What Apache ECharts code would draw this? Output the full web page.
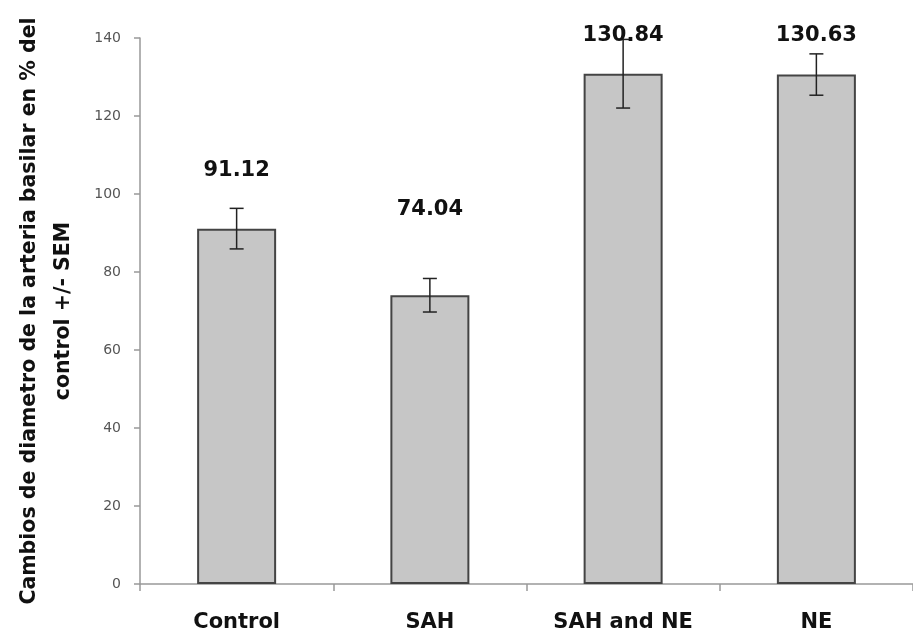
<!DOCTYPE html>
<html>
<head>
<meta charset="utf-8">
<script src="https://cdn.jsdelivr.net/npm/echarts@6/dist/echarts.min.js"></script>
<style>html,body{margin:0;padding:0;background:#fff;}#c{width:913px;height:638px;}</style>
</head>
<body>
<div id="c"></div>
<script>
var categories = ['Control', 'SAH', 'SAH and NE', 'NE'];
var means = [91.12, 74.04, 130.84, 130.63];
var sem = [5.2, 4.3, 8.8, 5.3];
var valueLabels = ['91.12', '74.04', '130.84', '130.63'];
var labelLevels = [106, 96, 140.7, 140.7];
var yTicks = [0, 20, 40, 60, 80, 100, 120, 140];

var chart = echarts.init(document.getElementById('c'), null, {renderer: 'canvas'});
var errData = means.map(function (m, i) { return [i, m - sem[i], m + sem[i]]; });
var lblData = labelLevels.map(function (v, i) { return [i, v, valueLabels[i]]; });

chart.setOption({
  animation: false,
  backgroundColor: '#fff',
  grid: {left: 140, right: 0, top: 38, bottom: 54},
  xAxis: {
    type: 'category',
    data: categories,
    axisLine: {lineStyle: {color: '#999', width: 1.5}},
    axisTick: {show: true, alignWithLabel: false, length: 7, lineStyle: {color: '#999', width: 1.5}},
    axisLabel: {color: '#111', fontFamily: 'DejaVu Sans', fontWeight: 'bold', fontSize: 21, margin: 28}
  },
  yAxis: {
    type: 'value',
    min: yTicks[0],
    max: yTicks[yTicks.length - 1],
    interval: yTicks[1] - yTicks[0],
    splitLine: {show: false},
    axisLine: {show: true, lineStyle: {color: '#999', width: 1.5}},
    axisTick: {show: true, length: 6, lineStyle: {color: '#999', width: 1.5}},
    axisLabel: {color: '#555', fontFamily: 'DejaVu Sans', fontSize: 14, margin: 19},
    name: 'Cambios de diametro de la arteria basilar en % del\ncontrol +/- SEM',
    nameLocation: 'middle',
    nameRotate: 90,
    nameGap: 59,
    nameTextStyle: {color: '#111', fontFamily: 'DejaVu Sans', fontWeight: 'bold', fontSize: 20.5, lineHeight: 34}
  },
  series: [
    {
      type: 'bar',
      data: means,
      barWidth: 79,
      itemStyle: {color: '#c6c6c6', borderColor: '#444', borderWidth: 2}
    },
    {
      type: 'custom',
      data: errData,
      z: 10,
      renderItem: function (params, api) {
        var x = api.value(0);
        var lo = api.coord([x, api.value(1)]);
        var hi = api.coord([x, api.value(2)]);
        var hw = 7;
        var st = {stroke: '#222', lineWidth: 1.5};
        return {type: 'group', children: [
          {type: 'line', shape: {x1: lo[0], y1: lo[1], x2: hi[0], y2: hi[1]}, style: st},
          {type: 'line', shape: {x1: hi[0] - hw, y1: hi[1], x2: hi[0] + hw, y2: hi[1]}, style: st},
          {type: 'line', shape: {x1: lo[0] - hw, y1: lo[1], x2: lo[0] + hw, y2: lo[1]}, style: st}
        ]};
      }
    },
    {
      type: 'custom',
      data: lblData,
      clip: false,
      z: 11,
      renderItem: function (params, api) {
        var p = api.coord([api.value(0), api.value(1)]);
        return {type: 'text', x: p[0], y: p[1], style: {
          text: valueLabels[params.dataIndex], align: 'center', verticalAlign: 'middle',
          fill: '#111', font: 'bold 21px "DejaVu Sans"'
        }};
      }
    }
  ]
});
</script>
</body>
</html>
